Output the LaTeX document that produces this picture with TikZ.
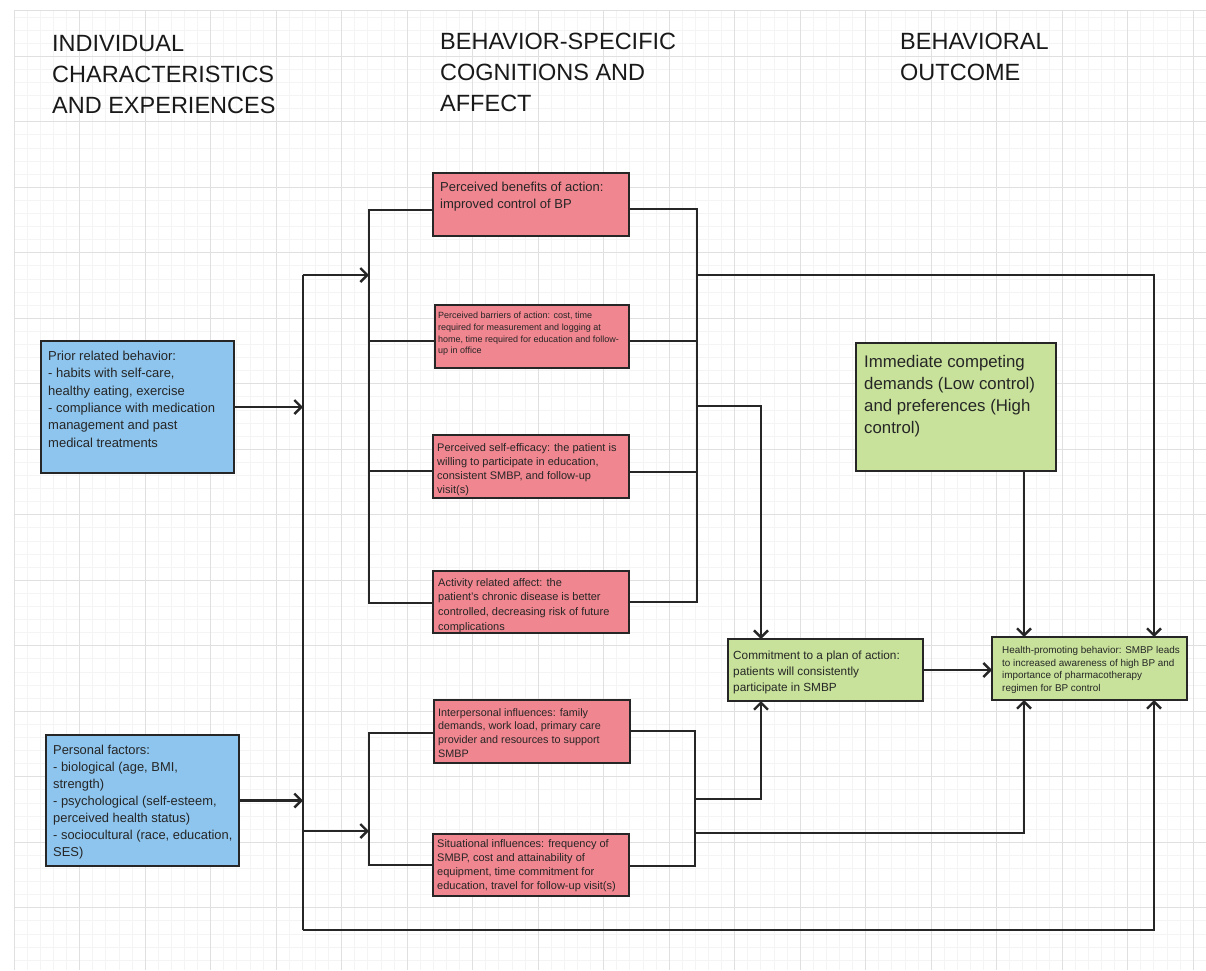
\documentclass[tikz,border=0pt]{standalone}
\usepackage{fontspec}
\setmainfont{Liberation Sans}
\usetikzlibrary{arrows.meta,calc}
\definecolor{bluefill}{HTML}{8EC5EE}
\definecolor{redfill}{HTML}{F0868F}
\definecolor{greenfill}{HTML}{C8E29B}
\definecolor{edgec}{HTML}{262626}
\definecolor{gridmajor}{HTML}{E0E0E0}
\definecolor{gridminor}{HTML}{F4F4F4}
\tikzset{
  box/.style={draw=edgec, line width=2.6pt, anchor=north west, inner sep=0pt, outer sep=0pt},
  bluebox/.style={box, fill=bluefill},
  redbox/.style={box, fill=redfill},
  greenbox/.style={box, fill=greenfill},
  txt/.style={anchor=north west, inner sep=0pt, align=left, text=black!85},
  hdr/.style={anchor=north west, inner sep=0pt, align=left, text=black!90, font=\fontsize{23.5}{31}\selectfont},
  conn/.style={draw=edgec, line width=2.6pt},
  arr/.style={conn, -{Straight Barb[length=7pt,width=14pt,line width=2.4pt]}},
  gmin/.style={draw=gridminor, line width=0.5pt},
  gmaj/.style={draw=gridmajor, line width=0.8pt},
}
\begin{document}
\begin{tikzpicture}[x=1pt,y=-1pt]
\useasboundingbox (0,0) rectangle (1206,970);
\fill[white] (0,0) rectangle (1206,970);
% grid
\foreach \i in {0,...,91} \draw[gmin] ({14+\i*13.1},10) -- ({14+\i*13.1},970);
\foreach \j in {0,...,72} \draw[gmin] (14,{16.8+\j*13.1}) -- (1206,{16.8+\j*13.1});
\foreach \i in {0,...,18} \draw[gmaj] ({14+\i*65.5},10) -- ({14+\i*65.5},970);
\foreach \j in {0,...,13} \draw[gmaj] (14,{56+\j*65.5}) -- (1206,{56+\j*65.5});
\draw[gmaj] (14,10) -- (1206,10);

% headers
\node[hdr] (h1) at (52,35) {INDIVIDUAL\\CHARACTERISTICS\\AND EXPERIENCES};
\node[hdr] (h2) at (440,33) {BEHAVIOR-SPECIFIC\\COGNITIONS AND\\AFFECT};
\node[hdr] (h3) at (900,33) {BEHAVIORAL\\OUTCOME};

% boxes
\node[bluebox, minimum width=193pt, minimum height=132pt] (prior) at (41,341) {};
\node[bluebox, minimum width=193pt, minimum height=131pt] (personal) at (46,735) {};
\node[redbox, minimum width=196pt, minimum height=63pt] (red1) at (433,173) {};
\node[redbox, minimum width=194pt, minimum height=63pt] (red2) at (435,305) {};
\node[redbox, minimum width=196pt, minimum height=63pt] (red3) at (433,435) {};
\node[redbox, minimum width=196pt, minimum height=62pt] (red4) at (433,571) {};
\node[redbox, minimum width=196pt, minimum height=63pt] (red5) at (434,700) {};
\node[redbox, minimum width=196pt, minimum height=62pt] (red6) at (433,834) {};
\node[greenbox, minimum width=200pt, minimum height=128pt] (immed) at (856,343) {};
\node[greenbox, minimum width=195pt, minimum height=62pt] (commit) at (728,639) {};
\node[greenbox, minimum width=195pt, minimum height=63pt] (health) at (992,637) {};

% texts
\node[txt, font=\fontsize{13}{17.3}\selectfont] (priorT) at (48,351) {Prior related behavior:\\- habits with self-care,\\healthy eating, exercise\\- compliance with medication\\management and past\\medical treatments};
\node[txt, font=\fontsize{12.9}{17}\selectfont] (personalT) at (53,745) {Personal factors:\\- biological (age, BMI,\\strength)\\- psychological (self-esteem,\\perceived health status)\\- sociocultural (race, education,\\SES)};
\node[txt, font=\fontsize{13}{17}\selectfont] (red1T) at (440,182) {Perceived benefits of action:\\improved control of BP};
\node[txt, font=\fontsize{9}{11.7}\selectfont] (red2T) at (438,312) {Perceived barriers of action: cost, time\\required for measurement and logging at\\home, time required for education and follow-\\up in office};
\node[txt, font=\fontsize{11}{14}\selectfont] (red3T) at (437,443) {Perceived self-efficacy: the patient is\\willing to participate in education,\\consistent SMBP, and follow-up\\visit(s)};
\node[txt, font=\fontsize{11}{14.7}\selectfont] (red4T) at (438,578) {Activity related affect: the\\patient's chronic disease is better\\controlled, decreasing risk of future\\complications};
\node[txt, font=\fontsize{10.8}{13.7}\selectfont] (red5T) at (438,708) {Interpersonal influences: family\\demands, work load, primary care\\provider and resources to support\\SMBP};
\node[txt, font=\fontsize{11}{14}\selectfont] (red6T) at (437,839) {Situational influences: frequency of\\SMBP, cost and attainability of\\equipment, time commitment for\\education, travel for follow-up visit(s)};
\node[txt, font=\fontsize{16.8}{22}\selectfont] (immedT) at (864,355) {Immediate competing\\demands (Low control)\\and preferences (High\\control)};
\node[txt, font=\fontsize{11.8}{15.7}\selectfont] (commitT) at (733,651) {Commitment to a plan of action:\\patients will consistently\\participate in SMBP};
\node[txt, font=\fontsize{9.9}{12.7}\selectfont] (healthT) at (1002,646) {Health-promoting behavior: SMBP leads\\to increased awareness of high BP and\\importance of pharmacotherapy\\regimen for BP control};

% junction coordinates
\coordinate (jA) at (303,275);
\coordinate (jB) at (303,930);
\coordinate (jC) at (303,831);
\coordinate (ulTop) at (369,210);
\coordinate (ulBot) at (369,603);
\coordinate (ul2) at (369,341);
\coordinate (ul3) at (369,471);
\coordinate (urTop) at (697,209);
\coordinate (urBot) at (697,602);
\coordinate (ur2) at (697,341);
\coordinate (ur3) at (697,472);
\coordinate (urO1) at (697,275);
\coordinate (urO2) at (697,406);
\coordinate (llTop) at (369,733);
\coordinate (llBot) at (369,865);
\coordinate (lrTop) at (695,731);
\coordinate (lrBot) at (695,866);
\coordinate (lrO1) at (695,799);
\coordinate (lrO2) at (695,833);

% left trunk
\draw[conn] (jA) -- (jB);
\draw[arr] (prior.east) -- (prior.east -| jA);
\draw[arr] (personal.east) -- (personal.east -| jA);
\draw[arr] (jA) -- (jA -| ulTop);
\draw[arr] (jC) -- (jC -| llTop);

% upper-left bracket
\draw[conn] (red1.west |- ulTop) -- (ulTop) -- (ulBot) -- (red4.west |- ulBot);
\draw[conn] (red2.west |- ul2) -- (ul2);
\draw[conn] (red3.west |- ul3) -- (ul3);
% upper-right bracket
\draw[conn] (red1.east |- urTop) -- (urTop) -- (urBot) -- (red4.east |- urBot);
\draw[conn] (red2.east |- ur2) -- (ur2);
\draw[conn] (red3.east |- ur3) -- (ur3);
% lower-left bracket
\draw[conn] (red5.west |- llTop) -- (llTop) -- (llBot) -- (red6.west |- llBot);
% lower-right bracket
\draw[conn] (red5.east |- lrTop) -- (lrTop) -- (lrBot) -- (red6.east |- lrBot);

% outgoing arrows
\draw[arr] (urO1) -| ($(health.north west)+(162,0)$);
\draw[arr] (urO2) -| ($(commit.north west)+(33,0)$);
\draw[arr] (lrO1) -| ($(commit.south west)+(33,0)$);
\draw[arr] (lrO2) -| ($(health.south west)+(32,0)$);
\draw[arr] ($(immed.south west)+(168,0)$) -- ($(health.north west)+(32,0)$);
\draw[arr] (commit.east) -- (commit.east -| health.west);
\draw[arr] (jB) -| ($(health.south west)+(162,0)$);
\end{tikzpicture}
\end{document}
